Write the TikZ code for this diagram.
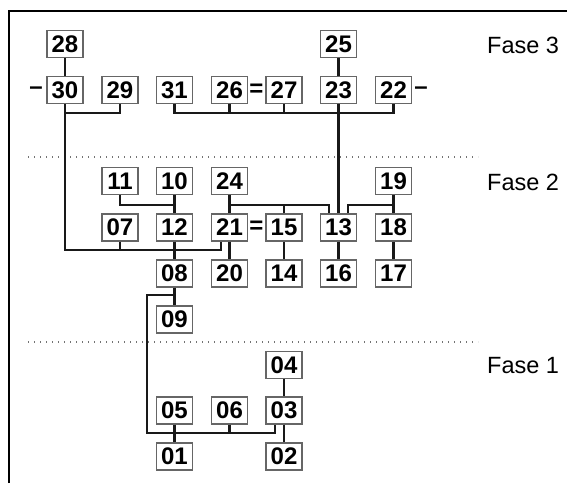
\documentclass[tikz,border=0pt]{standalone}
\usepackage{fontspec}
\setmainfont{Liberation Sans}
\begin{document}
\begin{tikzpicture}[x=1pt,y=-1pt,
  box/.style={draw=black!60,line width=1.2pt,fill=white,minimum width=36pt,minimum height=27pt,inner sep=0pt,
    font=\fontsize{24}{24}\selectfont\bfseries},
  conn/.style={draw=black!90,line width=2.2pt},
  sym/.style={inner sep=0pt,font=\fontsize{24}{24}\selectfont\bfseries},
  phase/.style={anchor=west,inner sep=0pt,font=\fontsize{23.5}{23.5}\selectfont},
  sep/.style={draw=black!55,line width=1.3pt,dash pattern=on 1.3pt off 4.7pt}]
\useasboundingbox (0,0) rectangle (567,483);
% frame
\draw[line width=1.6pt] (9,483) -- (9,11) -- (567,11);
% separators
\draw[sep] (28,157) -- (478,157);
\draw[sep] (28,342) -- (478,342);
% phase labels
\node[phase] (f3) at (487,45) {Fase 3};
\node[phase] (f2) at (487,182) {Fase 2};
\node[phase] (f1) at (487,366) {Fase 1};
% bus levels
\coordinate (y3) at (0,113);
\coordinate (y2a) at (0,205);
\coordinate (y2b) at (0,250);
\coordinate (y2c) at (0,295);
\coordinate (y1) at (0,433);
\coordinate (k1) at (147,295);
\coordinate (k2) at (147,433);
% Fase 3
\node[box] (n28) at (65,44) {28};
\node[box] (n25) at (338.5,44) {25};
\node[box] (n30) at (65,90) {30};
\node[box] (n29) at (120,90) {29};
\node[box] (n31) at (174.5,90) {31};
\node[box] (n26) at (229.5,90) {26};
\node[box] (n27) at (284,90) {27};
\node[box] (n23) at (338.5,90) {23};
\node[box] (n22) at (393.5,90) {22};
\node[sym] (d1) at (36,91) {–};
\node[sym] (d2) at (421,91) {–};
\node[sym] (e1) at (256.5,90) {=};
% Fase 2
\node[box] (n11) at (120,181) {11};
\node[box] (n10) at (174.5,181) {10};
\node[box] (n24) at (229.5,181) {24};
\node[box] (n19) at (393.5,181) {19};
\node[box] (n07) at (120,227.5) {07};
\node[box] (n12) at (174.5,227.5) {12};
\node[box] (n21) at (229.5,227.5) {21};
\node[box] (n15) at (284,227.5) {15};
\node[box] (n13) at (338.5,227.5) {13};
\node[box] (n18) at (393.5,227.5) {18};
\node[sym] (e2) at (256.5,227.5) {=};
\node[box] (n08) at (174.5,273.5) {08};
\node[box] (n20) at (229.5,273.5) {20};
\node[box] (n14) at (284,273.5) {14};
\node[box] (n16) at (338.5,273.5) {16};
\node[box] (n17) at (393.5,273.5) {17};
\node[box] (n09) at (174.5,319.5) {09};
% Fase 1
\node[box] (n04) at (284,365) {04};
\node[box] (n05) at (174.5,410.5) {05};
\node[box] (n06) at (229.5,410.5) {06};
\node[box] (n03) at (284,410.5) {03};
\node[box] (n01) at (174.5,456.5) {01};
\node[box] (n02) at (284,456.5) {02};
% connectors Fase 3
\draw[conn] (n28) -- (n30);
\draw[conn] (n29.south) |- (n30.south |- y3);
\draw[conn] (n30.south) -- (n30.south |- y2b) -| ([xshift=-8.5pt]n21.south);
\draw[conn] (n31.south) |- (n22.south |- y3) -- (n22.south);
\draw[conn] (n26.south) -- (n26.south |- y3);
\draw[conn] (n27.south) -- (n27.south |- y3);
\draw[conn] (n25) -- (n23);
\draw[conn] (n23) -- (n13);
% connectors Fase 2
\draw[conn] (n07.south) -- (n07.south |- y2b);
\draw[conn] (n11.south) |- (n10.south |- y2a);
\draw[conn] (n10) -- (n12);
\draw[conn] (n24) -- (n21);
\draw[conn] (n24.south |- y2a) -| ([xshift=-9.5pt]n13.north);
\draw[conn] (n15.north) -- (n15.north |- y2a);
\draw[conn] (n19) -- (n18);
\draw[conn] (n19.south |- y2a) -| ([xshift=9.5pt]n13.north);
\draw[conn] (n21) -- (n20);
\draw[conn] (n15) -- (n14);
\draw[conn] (n13) -- (n16);
\draw[conn] (n18) -- (n17);
\draw[conn] (n12) -- (n08);
\draw[conn] (n08) -- (n09);
% connectors Fase 1
\draw[conn] (n08.south |- y2c) -- (k1) -- (k2) -| ([xshift=-9pt]n03.south);
\draw[conn] (n05) -- (n01);
\draw[conn] (n06.south) -- (n06.south |- y1);
\draw[conn] (n04) -- (n03);
\draw[conn] (n03) -- (n02);
\end{tikzpicture}
\end{document}
